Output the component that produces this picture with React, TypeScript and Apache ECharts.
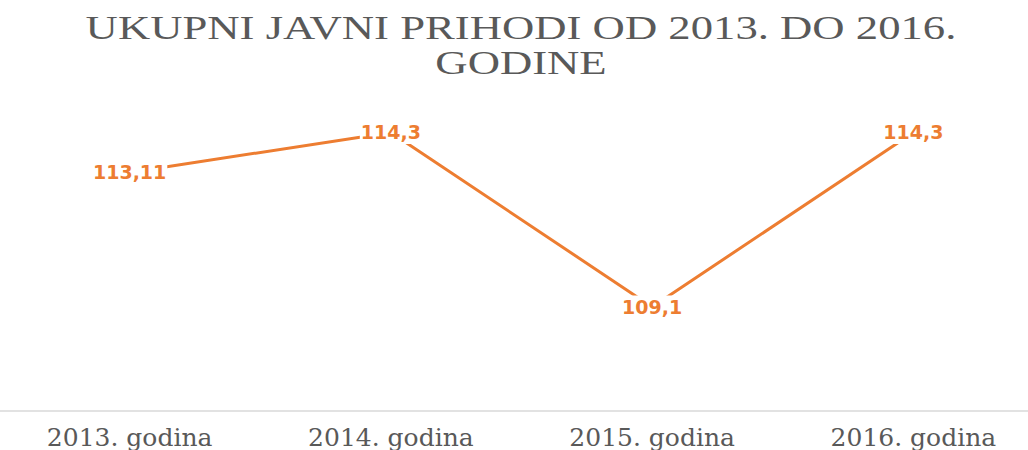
import React, { useEffect, useRef } from "react";
import * as echarts from "echarts";

const titleLines = ["UKUPNI JAVNI PRIHODI OD 2013. DO 2016.", "GODINE"];
const categories = ["2013. godina", "2014. godina", "2015. godina", "2016. godina"];
const values = [113.11, 114.3, 109.1, 114.3];
const valueLabels = ["113,11", "114,3", "109,1", "114,3"];

export default function App() {
  const ref = useRef<HTMLDivElement>(null);
  useEffect(() => {
    if (!ref.current) return;
    const chart = echarts.init(ref.current, undefined, { renderer: "svg" });
    chart.setOption({
      animation: false,
      backgroundColor: "#ffffff",
      graphic: titleLines.map((t, i) => ({
        type: "text",
        x: 522,
        y: 28 + i * 35,
        scaleX: 1.355,
        style: {
          text: t,
          x: 0,
          y: 0,
          textAlign: "center",
          textVerticalAlign: "middle",
          fontFamily: "Liberation Serif",
          fontSize: 33,
          fill: "#595959",
        },
      })),
      grid: { left: 0, right: 0, top: 109, bottom: 34, containLabel: false },
      xAxis: {
        type: "category",
        data: categories,
        boundaryGap: true,
        axisLine: { show: true, lineStyle: { color: "#d9d9d9", width: 1.5 } },
        axisTick: { show: false },
        axisLabel: {
          margin: 14,
          fontFamily: "DejaVu Serif",
          fontSize: 25,
          color: "#595959",
        },
      },
      yAxis: {
        type: "value",
        min: 106,
        max: 115,
        show: false,
        splitLine: { show: false },
      },
      series: [
        {
          type: "line",
          data: values,
          symbol: "circle",
          symbolSize: 1,
          itemStyle: { color: "#ed7d31" },
          lineStyle: { color: "#ed7d31", width: 3 },
          label: {
            show: true,
            position: "inside",
            formatter: (p: any) => valueLabels[p.dataIndex],
            fontFamily: "DejaVu Sans",
            fontWeight: "bold",
            fontSize: 19,
            color: "#ed7d31",
            backgroundColor: "#ffffff",
            padding: [2, 1],
          },
        },
      ],
    });
    return () => chart.dispose();
  }, []);
  return (
    <div
      style={{ position: "absolute", left: 0, top: 0, width: 1028, height: 450, overflow: "hidden" }}
    >
      <div
        ref={ref}
        style={{ position: "absolute", left: -1, top: 0, width: 1045, height: 450 }}
      />
    </div>
  );
}
